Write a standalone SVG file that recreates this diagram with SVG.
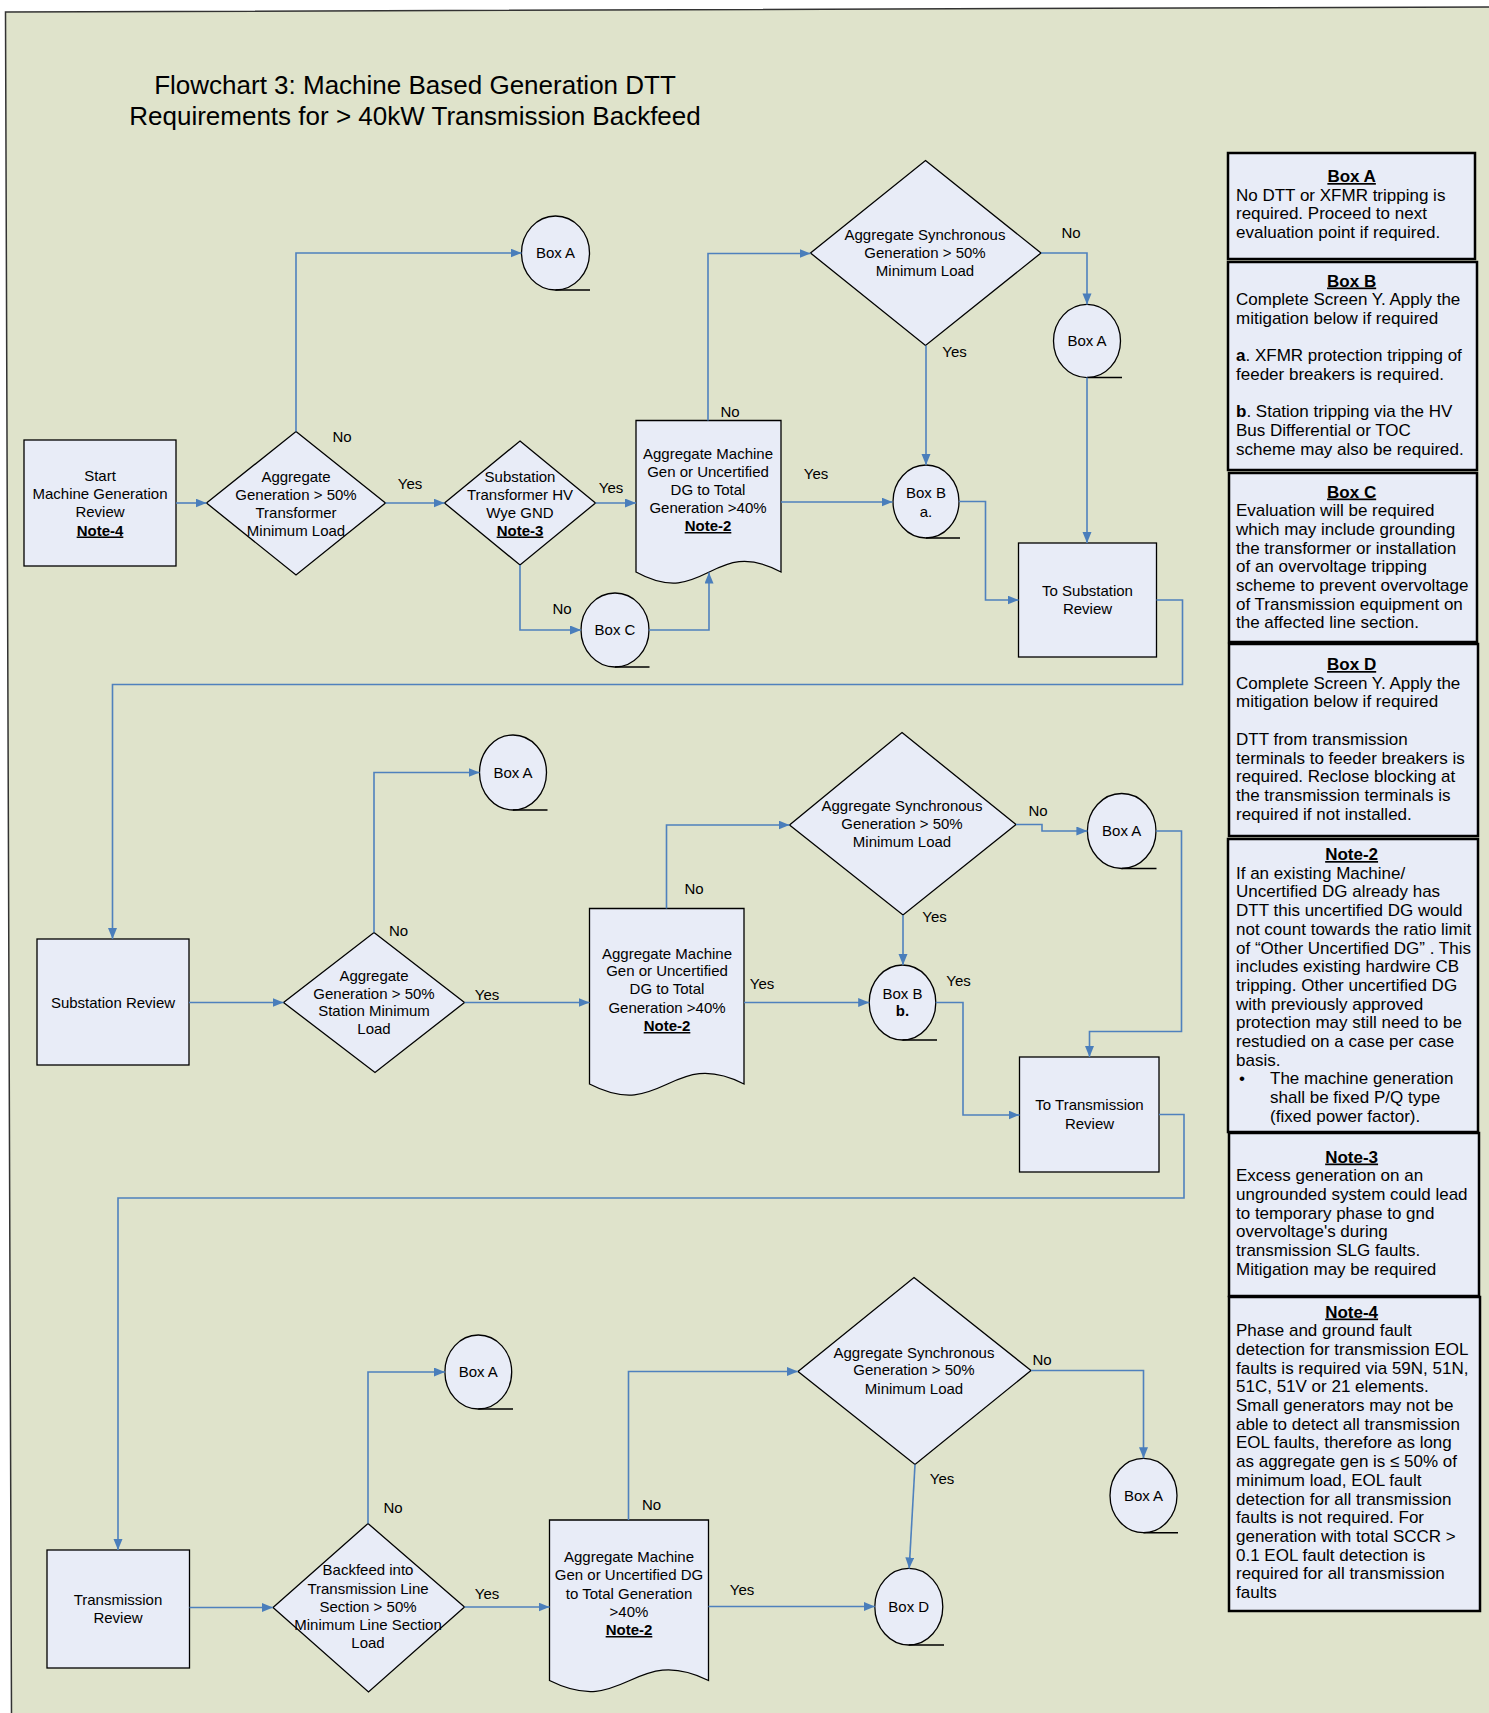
<svg xmlns="http://www.w3.org/2000/svg" width="1489" height="1713" viewBox="0 0 1489 1713">
<defs>
<marker id="arr" markerUnits="userSpaceOnUse" markerWidth="12" markerHeight="10" refX="11" refY="4.5" orient="auto">
<path d="M0,0 L11,4.5 L0,9 z" fill="#4A7EBB"/>
</marker>
<style>
.bg{fill:#DFE3CB}
.n{fill:#E8ECF7;stroke:#000;stroke-width:1.3}
.nb{fill:#E8ECF7;stroke:#000;stroke-width:2.5}
.tl{fill:none;stroke:#000;stroke-width:1.5}
.c{fill:none;stroke:#4F81BD;stroke-width:1.6;marker-end:url(#arr)}
.t{font-family:"Liberation Sans",Arial,sans-serif;font-size:15px;fill:#000;text-anchor:middle}
.u{font-weight:bold;text-decoration:underline}
.lb{font-family:"Liberation Sans",Arial,sans-serif;font-size:15px;fill:#000;text-anchor:middle}
.nt{font-family:"Liberation Sans",Arial,sans-serif;font-size:17px;fill:#000}
.h{font-weight:bold;text-decoration:underline;text-anchor:middle}
.title{font-family:"Liberation Sans",Arial,sans-serif;font-size:26px;fill:#000;text-anchor:middle}
</style>
</defs>
<rect x="0" y="0" width="1489" height="1713" fill="#fff"/>
<polygon class="bg" points="5.5,12 1489,7 1489,1713 11.5,1713"/>
<polyline points="11.5,1713 5.5,12 1489,7" fill="none" stroke="#333" stroke-width="1.5"/>

<g id="title">
<text class="title" x="415" y="94">Flowchart 3: Machine Based Generation DTT</text>
<text class="title" x="415" y="125">Requirements for &gt; 40kW Transmission  Backfeed</text>
</g>

<!-- Row 1 -->
<g id="start">
<rect class="n" x="24" y="440" width="152" height="126"/>
<text class="t" x="100" y="481">Start</text>
<text class="t" x="100" y="499">Machine Generation</text>
<text class="t" x="100" y="517">Review</text>
<text class="t u" x="100" y="535.5">Note-4</text>
</g>
<g id="d1">
<polygon class="n" points="296,431.5 385.5,503 296,575 206.5,503"/>
<text class="t" x="296" y="481.5">Aggregate</text>
<text class="t" x="296" y="499.5">Generation  &gt; 50%</text>
<text class="t" x="296" y="517.5">Transformer</text>
<text class="t" x="296" y="535.5">Minimum Load</text>
</g>
<g id="d2">
<polygon class="n" points="520,441 595.5,503 520,565 444.5,503"/>
<text class="t" x="520" y="481.5">Substation</text>
<text class="t" x="520" y="499.5">Transformer HV</text>
<text class="t" x="520" y="517.5">Wye GND</text>
<text class="t u" x="520" y="535.5">Note-3</text>
</g>
<g id="doc1">
<path class="n" d="M636,420.5 H781 V572 C712,535 705,610 636,572 Z"/>
<text class="t" x="708" y="458.5">Aggregate Machine</text>
<text class="t" x="708" y="476.5">Gen or Uncertified</text>
<text class="t" x="708" y="494.5">DG to Total</text>
<text class="t" x="708" y="513">Generation &gt;40%</text>
<text class="t u" x="708" y="531">Note-2</text>
</g>
<g id="boxA1">
<ellipse class="n" cx="555.5" cy="253" rx="34" ry="37"/>
<line class="tl" x1="555.5" y1="290" x2="590" y2="290"/>
<text class="t" x="555.5" y="258.4">Box A</text>
</g>
<g id="boxC1">
<ellipse class="n" cx="615" cy="630" rx="34" ry="37"/>
<line class="tl" x1="615" y1="667" x2="649.5" y2="667"/>
<text class="t" x="615" y="635.4">Box C</text>
</g>
<g id="sync1">
<polygon class="n" points="925.5,160.5 1041,253 925.5,345.5 810.5,253"/>
<text class="t" x="925" y="240">Aggregate Synchronous</text>
<text class="t" x="925" y="258.3">Generation  &gt; 50%</text>
<text class="t" x="925" y="276.4">Minimum Load</text>
</g>
<g id="boxA2">
<ellipse class="n" cx="1087" cy="341" rx="33.5" ry="36.6"/>
<line class="tl" x1="1087" y1="377.6" x2="1122" y2="377.6"/>
<text class="t" x="1087" y="346.4">Box A</text>
</g>
<g id="boxBa">
<ellipse class="n" cx="926" cy="501.5" rx="33" ry="36.5"/>
<line class="tl" x1="926" y1="538" x2="960" y2="538"/>
<text class="t" x="926" y="498">Box B</text>
<text class="t" x="926" y="517">a.</text>
</g>
<g id="toSub">
<rect class="n" x="1018.5" y="543" width="138" height="114"/>
<text class="t" x="1087.5" y="596">To Substation</text>
<text class="t" x="1087.5" y="614">Review</text>
</g>

<!-- Row 2 -->
<g id="subRev">
<rect class="n" x="37" y="939" width="152" height="126"/>
<text class="t" x="113" y="1007.7">Substation Review</text>
</g>
<g id="d3">
<polygon class="n" points="374,932.5 464.5,1002.5 375,1072.5 283.5,1002.5"/>
<text class="t" x="374" y="980.5">Aggregate</text>
<text class="t" x="374" y="998.7">Generation  &gt; 50%</text>
<text class="t" x="374" y="1016.4">Station  Minimum</text>
<text class="t" x="374" y="1034.4">Load</text>
</g>
<g id="boxA3">
<ellipse class="n" cx="513" cy="772.5" rx="33.5" ry="37.5"/>
<line class="tl" x1="513" y1="810" x2="547.5" y2="810"/>
<text class="t" x="513" y="778">Box A</text>
</g>
<g id="doc2">
<path class="n" d="M589.5,908.5 H744 V1084 C670.5,1047 663,1122 589.5,1084 Z"/>
<text class="t" x="667" y="958.7">Aggregate Machine</text>
<text class="t" x="667" y="976">Gen or Uncertified</text>
<text class="t" x="667" y="994.4">DG to Total</text>
<text class="t" x="667" y="1012.7">Generation &gt;40%</text>
<text class="t u" x="667" y="1031">Note-2</text>
</g>
<g id="sync2">
<polygon class="n" points="902,732.5 1016,824.5 903,915 789.5,825"/>
<text class="t" x="902" y="811.4">Aggregate Synchronous</text>
<text class="t" x="902" y="829.4">Generation  &gt; 50%</text>
<text class="t" x="902" y="847">Minimum Load</text>
</g>
<g id="boxA4">
<ellipse class="n" cx="1121.7" cy="831" rx="34.3" ry="37.5"/>
<line class="tl" x1="1121.7" y1="868.5" x2="1156.5" y2="868.5"/>
<text class="t" x="1121.7" y="836.4">Box A</text>
</g>
<g id="boxBb">
<ellipse class="n" cx="902.5" cy="1002.5" rx="33.3" ry="37.5"/>
<line class="tl" x1="902.5" y1="1040" x2="937" y2="1040"/>
<text class="t" x="902.5" y="998.7">Box B</text>
<text class="t" x="902.5" y="1016.4" font-weight="bold">b.</text>
</g>
<g id="toTrans">
<rect class="n" x="1019.5" y="1057" width="139.5" height="115"/>
<text class="t" x="1089.5" y="1110.4">To Transmission</text>
<text class="t" x="1089.5" y="1128.7">Review</text>
</g>

<!-- Row 3 -->
<g id="transRev">
<rect class="n" x="47" y="1550" width="142.5" height="118"/>
<text class="t" x="118" y="1605">Transmission</text>
<text class="t" x="118" y="1623">Review</text>
</g>
<g id="d4">
<polygon class="n" points="368,1523.5 464.5,1607 368.5,1692 273,1607.5"/>
<text class="t" x="368" y="1575.4">Backfeed into</text>
<text class="t" x="368" y="1594.2">Transmission Line</text>
<text class="t" x="368" y="1612">Section &gt; 50%</text>
<text class="t" x="368" y="1630.4">Minimum Line Section</text>
<text class="t" x="368" y="1648.4">Load</text>
</g>
<g id="boxA5">
<ellipse class="n" cx="478.3" cy="1372" rx="33.4" ry="37"/>
<line class="tl" x1="478.3" y1="1409" x2="513" y2="1409"/>
<text class="t" x="478.3" y="1377.4">Box A</text>
</g>
<g id="doc3">
<path class="n" d="M549.5,1520 H708.5 V1680.5 C632.8,1643.5 625.2,1718.5 549.5,1680.5 Z"/>
<text class="t" x="629" y="1562">Aggregate Machine</text>
<text class="t" x="629" y="1580">Gen or Uncertified DG</text>
<text class="t" x="629" y="1598.5">to Total Generation</text>
<text class="t" x="629" y="1616.5">&gt;40%</text>
<text class="t u" x="629" y="1635">Note-2</text>
</g>
<g id="sync3">
<polygon class="n" points="914,1277.5 1031,1370.5 915,1464.5 798,1371.5"/>
<text class="t" x="914" y="1357.7">Aggregate Synchronous</text>
<text class="t" x="914" y="1375.4">Generation  &gt; 50%</text>
<text class="t" x="914" y="1393.7">Minimum Load</text>
</g>
<g id="boxA6">
<ellipse class="n" cx="1143.5" cy="1495.5" rx="33.5" ry="37.2"/>
<line class="tl" x1="1143.5" y1="1532.7" x2="1178" y2="1532.7"/>
<text class="t" x="1143.5" y="1501">Box A</text>
</g>
<g id="boxD">
<ellipse class="n" cx="908.8" cy="1606.7" rx="34" ry="38.3"/>
<line class="tl" x1="908.8" y1="1645" x2="944" y2="1645"/>
<text class="t" x="908.8" y="1612">Box D</text>
</g>

<!-- Connectors -->
<g id="connectors">
<path class="c" d="M176,503 H206.5"/>
<path class="c" d="M296,431.5 V253 H521.5"/>
<path class="c" d="M385.5,503 H444.5"/>
<path class="c" d="M595.5,503 H636"/>
<path class="c" d="M520,565 V630 H581"/>
<path class="c" d="M649,630 H709 V572.5"/>
<path class="c" d="M708,420.5 V253.5 H810.5"/>
<path class="c" d="M781,502 H892.5"/>
<path class="c" d="M926,345.5 V465"/>
<path class="c" d="M1041,253 H1087 V304.4"/>
<path class="c" d="M1087,377.6 V543"/>
<path class="c" d="M959,501.5 H985.5 V600 H1018.5"/>
<path class="c" d="M1156.5,600 H1182.5 V684.5 H112.5 V939"/>

<path class="c" d="M189,1002.5 H283.5"/>
<path class="c" d="M374,932.5 V772.5 H479.5"/>
<path class="c" d="M464.5,1002.5 H589.5"/>
<path class="c" d="M666.5,908.5 V825 H789.5"/>
<path class="c" d="M744,1002.5 H869.2"/>
<path class="c" d="M903,915 V965"/>
<path class="c" d="M1016,824.5 H1042 V831 H1087.4"/>
<path class="c" d="M1156,831 H1181.5 V1031.5 H1089.5 V1057"/>
<path class="c" d="M935.8,1002.5 H963 V1115 H1019.5"/>
<path class="c" d="M1159,1114.5 H1184 V1198 H118 V1550"/>

<path class="c" d="M189.5,1607.5 H273"/>
<path class="c" d="M368,1523.5 V1372 H444.9"/>
<path class="c" d="M464.5,1607 H549.5"/>
<path class="c" d="M628.5,1520 V1371.5 H798"/>
<path class="c" d="M708.5,1606.5 H874.8"/>
<path class="c" d="M915,1464.5 L909.2,1568.4"/>
<path class="c" d="M1031,1370.5 H1143.5 V1458.3"/>
</g>

<g id="labels">
<text class="lb" x="342" y="442">No</text>
<text class="lb" x="410" y="488.5">Yes</text>
<text class="lb" x="611" y="492.5">Yes</text>
<text class="lb" x="562" y="614">No</text>
<text class="lb" x="730" y="416.5">No</text>
<text class="lb" x="816" y="478.5">Yes</text>
<text class="lb" x="954.5" y="356.5">Yes</text>
<text class="lb" x="1071" y="237.5">No</text>

<text class="lb" x="398.5" y="935.5">No</text>
<text class="lb" x="487" y="999.5">Yes</text>
<text class="lb" x="694" y="894">No</text>
<text class="lb" x="1038" y="816">No</text>
<text class="lb" x="934.5" y="922">Yes</text>
<text class="lb" x="762" y="988.5">Yes</text>
<text class="lb" x="958.5" y="986">Yes</text>

<text class="lb" x="393" y="1513">No</text>
<text class="lb" x="487" y="1598.5">Yes</text>
<text class="lb" x="651.5" y="1509.5">No</text>
<text class="lb" x="1042" y="1364.5">No</text>
<text class="lb" x="942" y="1484">Yes</text>
<text class="lb" x="742" y="1594.5">Yes</text>
</g>

<!-- Side notes -->
<g id="noteBoxA">
<rect class="nb" x="1228" y="153" width="247" height="106"/>
<text class="nt" x="1236" y="182">
<tspan class="h" x="1354" y="182">Box A</tspan>
<tspan x="1236" dy="18.7">No DTT or XFMR tripping is</tspan>
<tspan x="1236" dy="18.7">required.  Proceed to next</tspan>
<tspan x="1236" dy="18.7">evaluation point if required.</tspan>
</text>
</g>
<g id="noteBoxB">
<rect class="nb" x="1228" y="262" width="249" height="208"/>
<text class="nt" x="1236" y="286.5">
<tspan class="h" x="1354" y="286.5">Box B</tspan>
<tspan x="1236" dy="18.7">Complete Screen Y. Apply the</tspan>
<tspan x="1236" dy="18.7">mitigation below if required</tspan>
<tspan x="1236" dy="37.4"><tspan font-weight="bold">a</tspan>. XFMR protection tripping of</tspan>
<tspan x="1236" dy="18.7">feeder breakers is required.</tspan>
<tspan x="1236" dy="37.4"><tspan font-weight="bold">b</tspan>. Station tripping via the HV</tspan>
<tspan x="1236" dy="18.7">Bus Differential or TOC</tspan>
<tspan x="1236" dy="18.7">scheme may also be required.</tspan>
</text>
</g>
<g id="noteBoxC">
<rect class="nb" x="1229" y="473" width="248" height="169"/>
<text class="nt" x="1236" y="497.5">
<tspan class="h" x="1354" y="497.5">Box C</tspan>
<tspan x="1236" dy="18.7">Evaluation will be required</tspan>
<tspan x="1236" dy="18.7">which may include grounding</tspan>
<tspan x="1236" dy="18.7">the transformer or installation</tspan>
<tspan x="1236" dy="18.7">of an overvoltage tripping</tspan>
<tspan x="1236" dy="18.7">scheme to prevent overvoltage</tspan>
<tspan x="1236" dy="18.7">of Transmission equipment on</tspan>
<tspan x="1236" dy="18.7">the affected line section.</tspan>
</text>
</g>
<g id="noteBoxD">
<rect class="nb" x="1229" y="644" width="249" height="192"/>
<text class="nt" x="1236" y="670">
<tspan class="h" x="1354" y="670">Box D</tspan>
<tspan x="1236" dy="18.7">Complete Screen Y. Apply the</tspan>
<tspan x="1236" dy="18.7">mitigation below if required</tspan>
<tspan x="1236" dy="37.4">DTT from transmission</tspan>
<tspan x="1236" dy="18.7">terminals to feeder breakers is</tspan>
<tspan x="1236" dy="18.7">required.  Reclose blocking at</tspan>
<tspan x="1236" dy="18.7">the transmission terminals is</tspan>
<tspan x="1236" dy="18.7">required if not installed.</tspan>
</text>
</g>
<g id="note2">
<rect class="nb" x="1228" y="839" width="250" height="293"/>
<text class="nt" x="1236" y="860">
<tspan class="h" x="1354" y="860">Note-2</tspan>
<tspan x="1236" dy="18.7">If an existing Machine/</tspan>
<tspan x="1236" dy="18.7">Uncertified DG already has</tspan>
<tspan x="1236" dy="18.7">DTT this uncertified DG would</tspan>
<tspan x="1236" dy="18.7">not count towards the ratio limit</tspan>
<tspan x="1236" dy="18.7">of “Other Uncertified DG” . This</tspan>
<tspan x="1236" dy="18.7">includes existing hardwire CB</tspan>
<tspan x="1236" dy="18.7">tripping. Other uncertified DG</tspan>
<tspan x="1236" dy="18.7">with previously approved</tspan>
<tspan x="1236" dy="18.7">protection may still need to be</tspan>
<tspan x="1236" dy="18.7">restudied on a case per case</tspan>
<tspan x="1236" dy="18.7">basis.</tspan>
<tspan x="1239" dy="18.7">•</tspan>
<tspan x="1270" dy="0">The machine generation</tspan>
<tspan x="1270" dy="18.7">shall be fixed P/Q type</tspan>
<tspan x="1270" dy="18.7">(fixed power factor).</tspan>
</text>
</g>
<g id="note3">
<rect class="nb" x="1229" y="1133" width="250" height="163"/>
<text class="nt" x="1236" y="1162.5">
<tspan class="h" x="1354" y="1162.5">Note-3</tspan>
<tspan x="1236" dy="18.7">Excess generation on an</tspan>
<tspan x="1236" dy="18.7">ungrounded system could lead</tspan>
<tspan x="1236" dy="18.7">to temporary phase to gnd</tspan>
<tspan x="1236" dy="18.7">overvoltage's during</tspan>
<tspan x="1236" dy="18.7">transmission SLG faults.</tspan>
<tspan x="1236" dy="18.7">Mitigation may be required</tspan>
</text>
</g>
<g id="note4">
<rect class="nb" x="1229" y="1297" width="251" height="314"/>
<text class="nt" x="1236" y="1317.5">
<tspan class="h" x="1354" y="1317.5">Note-4</tspan>
<tspan x="1236" dy="18.7">Phase and ground fault</tspan>
<tspan x="1236" dy="18.7">detection for transmission EOL</tspan>
<tspan x="1236" dy="18.7">faults is required via 59N, 51N,</tspan>
<tspan x="1236" dy="18.7">51C, 51V or 21 elements.</tspan>
<tspan x="1236" dy="18.7">Small generators may not be</tspan>
<tspan x="1236" dy="18.7">able to detect all transmission</tspan>
<tspan x="1236" dy="18.7">EOL faults, therefore as long</tspan>
<tspan x="1236" dy="18.7">as aggregate gen is ≤ 50% of</tspan>
<tspan x="1236" dy="18.7">minimum load, EOL fault</tspan>
<tspan x="1236" dy="18.7">detection for all transmission</tspan>
<tspan x="1236" dy="18.7">faults is not required.  For</tspan>
<tspan x="1236" dy="18.7">generation with total SCCR &gt;</tspan>
<tspan x="1236" dy="18.7">0.1 EOL fault detection is</tspan>
<tspan x="1236" dy="18.7">required for all transmission</tspan>
<tspan x="1236" dy="18.7">faults</tspan>
</text>
</g>
</svg>
